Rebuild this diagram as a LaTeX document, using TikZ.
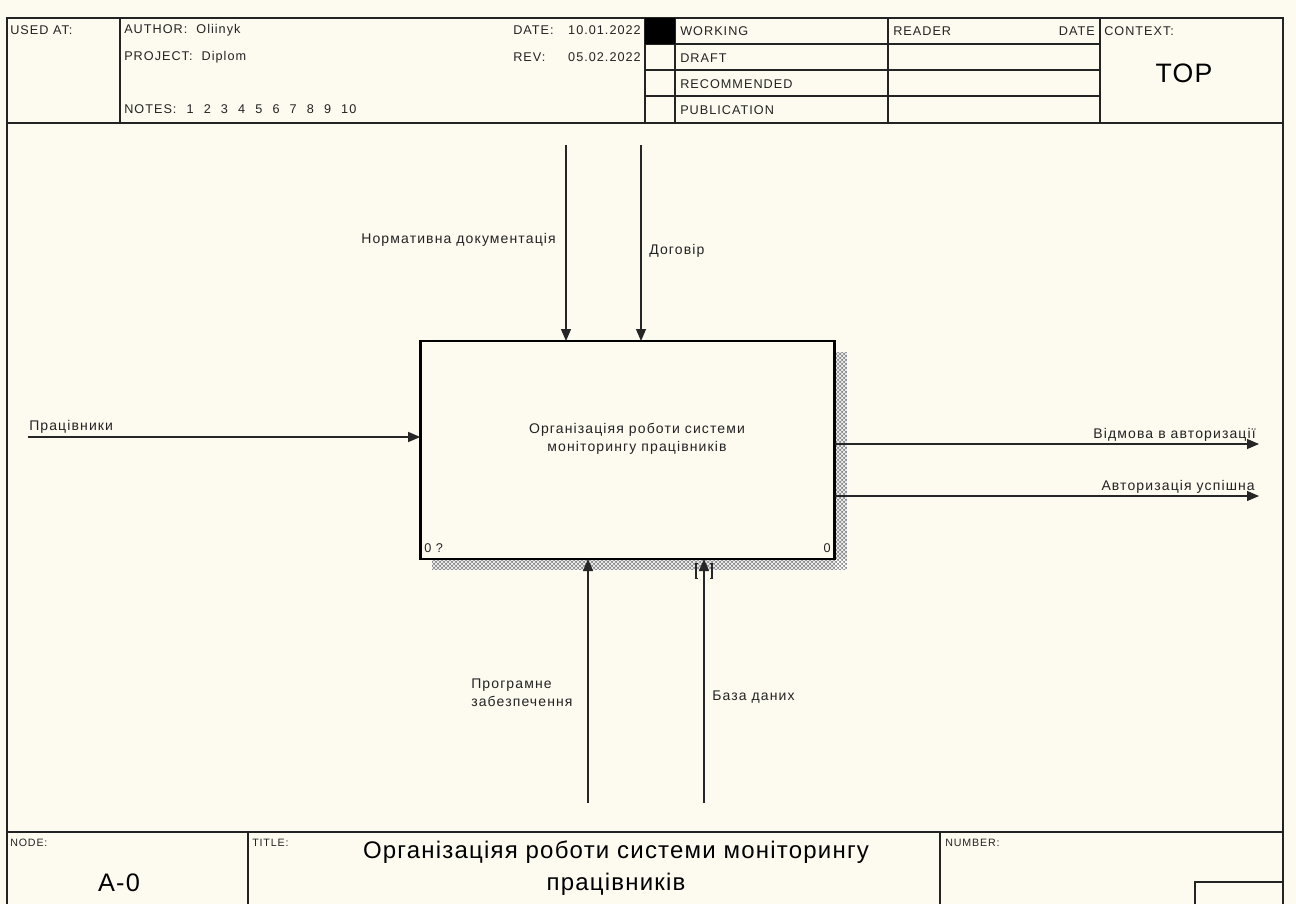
\documentclass[tikz,border=0pt]{standalone}
\usepackage{fontspec}
\setmainfont{Liberation Sans}
\newfontfamily\hdrfont[LetterSpace=8]{Liberation Sans}
\newfontfamily\lblfont[LetterSpace=8]{Liberation Sans}
\newfontfamily\ttlfont[LetterSpace=5]{Liberation Sans}
\usetikzlibrary{arrows.meta,patterns}
\definecolor{paper}{RGB}{253,250,240}
\definecolor{ink}{RGB}{35,35,35}
\begin{document}
\begin{tikzpicture}[x=0.75pt,y=-0.75pt,
  frame/.style={draw=ink, line width=1pt},
  small/.style={font=\hdrfont\fontsize{9.5}{10}\selectfont, text=ink, inner sep=0pt},
  tiny/.style={font=\hdrfont\fontsize{8}{9}\selectfont, text=ink, inner sep=0pt},
  big/.style={font=\ttlfont\fontsize{19}{22}\selectfont, text=black, inner sep=0pt},
  flow/.style={draw=black!85, line width=0.9pt, -{Triangle[length=9pt,width=7.5pt]}},
  lbl/.style={font=\lblfont\fontsize{10.5}{13.5}\selectfont, text=ink, inner sep=0pt},
]
% sheet
\fill[paper] (0,0) rectangle (1296,904);
\useasboundingbox (0,0) rectangle (1296,904);

% form frame
\draw[frame] (7,904) -- (7,18) -- (1283,18) -- (1283,904);
\draw[frame] (7,123) -- (1283,123);
\draw[frame] (7,832) -- (1283,832);

% header cells
\foreach \xx in {120,645,675,888,1100} \draw[frame] (\xx,18) -- (\xx,123);
\foreach \yy in {44,70,96} \draw[frame] (645,\yy) -- (1100,\yy);
\fill[black] (645,18) rectangle (675,44);

% header texts
\node[small, anchor=west] (usedat) at (10,30) {USED AT:};
\node[small, anchor=west] (author) at (124,30) {AUTHOR:\ \ Oliinyk};
\node[small, anchor=west] (project) at (124,57) {PROJECT:\ \ Diplom};
\node[small, anchor=west] (notes) at (124,109)
  {NOTES:\hspace{0.8em}1\hspace{0.8em}2\hspace{0.8em}3\hspace{0.8em}4\hspace{0.8em}5\hspace{0.8em}6\hspace{0.8em}7\hspace{0.8em}8\hspace{0.8em}9\hspace{0.8em}10};
\node[small, anchor=west] (datek) at (513,30) {DATE:};
\node[small, anchor=east] (datev) at (641,30) {10.01.2022};
\node[small, anchor=west] (revk) at (513,57) {REV:};
\node[small, anchor=east] (revv) at (641,57) {05.02.2022};
\node[small, anchor=west] (working) at (680,31) {WORKING};
\node[small, anchor=west] (draft) at (680,58) {DRAFT};
\node[small, anchor=west] (recom) at (680,84) {RECOMMENDED};
\node[small, anchor=west] (publ) at (680,110) {PUBLICATION};
\node[small, anchor=west] (reader) at (893,31) {READER};
\node[small, anchor=east] (rdate) at (1095,31) {DATE};
\node[small, anchor=west] (context) at (1104,31) {CONTEXT:};
\node[big, font=\ttlfont\fontsize{20}{22}\selectfont] (top) at (1184,73) {TOP};

% footer
\draw[frame] (248,832) -- (248,904);
\draw[frame] (940,832) -- (940,904);
\draw[frame] (1195,904) -- (1195,882) -- (1283,882);
\node[tiny, anchor=west] (nodek) at (10,843) {NODE:};
\node[big] (nodev) at (119,883) {A-0};
\node[tiny, anchor=west] (titlek) at (252,843) {TITLE:};
\node[big, align=center, font=\ttlfont\fontsize{18}{24}\selectfont] (titlev) at (616,868)
  {Організаціяя роботи системи моніторингу\\працівників};
\node[tiny, anchor=west] (numberk) at (945,843) {NUMBER:};

% shadow of the activity box
\fill[black!45] (835,352) rectangle (847,570);
\fill[black!45] (432,559) rectangle (847,570);
\fill[pattern=crosshatch, pattern color=white] (835,352) rectangle (847,570);
\fill[pattern=crosshatch, pattern color=white] (432,559) rectangle (847,570);

% activity box
\node[draw=black, fill=paper, line width=2.2pt, minimum width=311pt, minimum height=163.5pt,
      inner sep=0pt, outer sep=0pt] (fn) at (627.5,450) {};
\node[lbl, align=center] (fntext) at (637,439)
  {Організаціяя роботи системи\\моніторингу працівників};
\node[small, anchor=south west] (fnnum) at (424,553) {0 ?};
\node[small, anchor=south east] (fnid) at (831,553) {0};

% controls
\coordinate (ctl1) at (566,145);
\coordinate (ctl2) at (641,145);
\draw[flow] (ctl1) -- (ctl1 |- fn.north);
\draw[flow] (ctl2) -- (ctl2 |- fn.north);
\node[lbl, anchor=east] (ctl1l) at (556,240) {Нормативна документація};
\node[lbl, anchor=west] (ctl2l) at (649,251) {Договір};

% input
\coordinate (in1) at (28,437);
\draw[flow] (in1) -- (in1 -| fn.west);
\node[lbl, anchor=west] (in1l) at (29,427) {Працівники};

% outputs
\coordinate (out1) at (1259,444);
\coordinate (out2) at (1259,496);
\draw[flow] (out1 -| fn.east) -- (out1);
\draw[flow] (out2 -| fn.east) -- (out2);
\node[lbl, anchor=east] (out1l) at (1256,435) {Відмова в авторизації};
\node[lbl, anchor=east] (out2l) at (1255,487) {Авторизація успішна};

% mechanisms
\coordinate (mec1) at (588,803);
\coordinate (mec2) at (704,803);
\draw[flow] (mec1) -- (mec1 |- fn.south);
\draw[flow] (mec2) -- (mec2 |- fn.south);
\node[lbl, anchor=west, align=left] (mec1l) at (471,693) {Програмне\\забезпечення};
\node[lbl, anchor=west] (mec2l) at (712,697) {База даних};

% tunnel marks on the mechanism arrow
\coordinate (tun) at (704,571);
\draw[black!85, line width=0.8pt] ([xshift=-4.5pt,yshift=5.5pt]tun) -- ([xshift=-6pt,yshift=5.5pt]tun)
  -- ([xshift=-6pt,yshift=-5.5pt]tun) -- ([xshift=-4.5pt,yshift=-5.5pt]tun);
\draw[black!85, line width=0.8pt] ([xshift=4.5pt,yshift=5.5pt]tun) -- ([xshift=6pt,yshift=5.5pt]tun)
  -- ([xshift=6pt,yshift=-5.5pt]tun) -- ([xshift=4.5pt,yshift=-5.5pt]tun);
\end{tikzpicture}
\end{document}
